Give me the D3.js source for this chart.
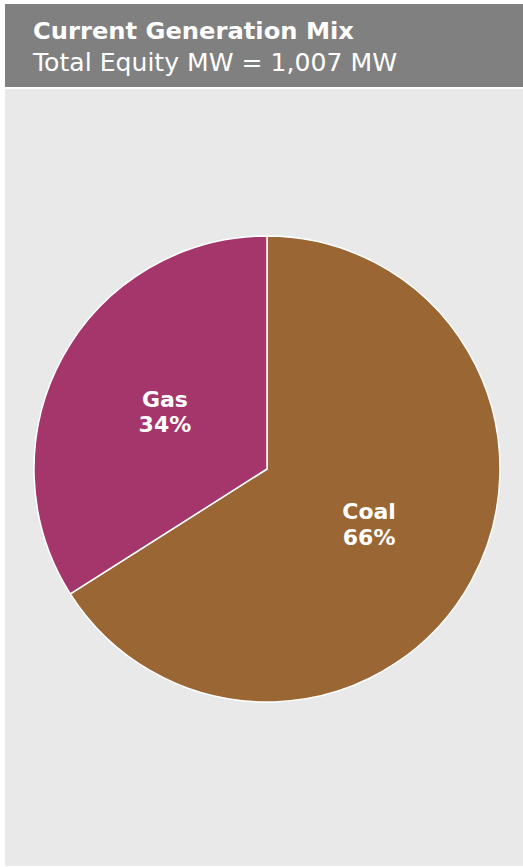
<!DOCTYPE html>
<html><head><meta charset="utf-8">
<script src="https://cdn.jsdelivr.net/npm/d3@7/dist/d3.min.js"></script>
<style>body{margin:0;background:#fff;}svg{display:block;}</style>
</head><body>
<svg id="c" width="523" height="867"></svg>
<script>
const title = "Current Generation Mix";
const subtitle = "Total Equity MW = 1,007 MW";
const categories = ["Coal", "Gas"];
const values = [66, 34];
const colors = ["#9a6634", "#a4366b"];

const svg = d3.select("#c");
const font = "'DejaVu Sans', Verdana, sans-serif";

svg.append("rect").attr("x",5).attr("y",4).attr("width",518).attr("height",83).attr("fill","#808080");
svg.append("rect").attr("x",5).attr("y",89).attr("width",518).attr("height",777).attr("fill","#e9e9e9");

const t1 = svg.append("text").attr("x",33).attr("y",38.5).attr("fill","#fff")
  .attr("font-family",font).attr("font-weight","bold").attr("font-size",23).text(title);
const t2 = svg.append("text").attr("x",33).attr("y",71).attr("fill","#fff")
  .attr("font-family",font).attr("font-size",25).text(subtitle);
function fit(sel, w){ sel.attr("textLength", w).attr("lengthAdjust","spacingAndGlyphs"); }
fit(t1, 321); fit(t2, 364);

const cx = 267, cy = 469, r = 233;
const pie = d3.pie().sort(null).value(d => d.v);
const data = pie(categories.map((c,i)=>({c, v: values[i], col: colors[i]})));
const arc = d3.arc().innerRadius(0).outerRadius(r);
const labelArc = d3.arc().innerRadius(r*0.5).outerRadius(r*0.5);
const g = svg.append("g").attr("transform",`translate(${cx},${cy})`);
g.selectAll("path").data(data).join("path").attr("d",arc)
  .attr("fill",d=>d.data.col).attr("stroke","#fff").attr("stroke-width",1.5);
const lg = g.selectAll("g.l").data(data).join("g").attr("class","l")
  .attr("transform",d=>`translate(${labelArc.centroid(d)})`);
lg.append("text").attr("text-anchor","middle").attr("y",-6).attr("fill","#fff")
  .attr("font-family",font).attr("font-weight","bold").attr("font-size",22).text(d=>d.data.c);
lg.append("text").attr("text-anchor","middle").attr("y",19.5).attr("fill","#fff")
  .attr("font-family",font).attr("font-weight","bold").attr("font-size",22).text(d=>d.data.v+"%");
</script>
</body></html>
